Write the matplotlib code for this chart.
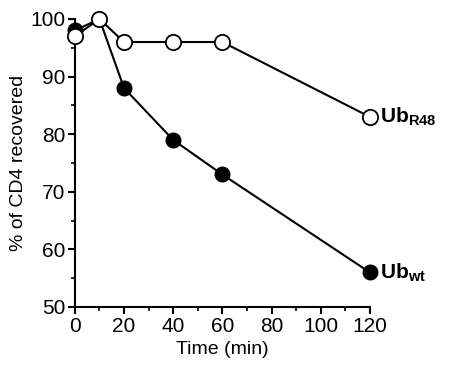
import matplotlib
matplotlib.use("Agg")
import matplotlib.pyplot as plt
from matplotlib.ticker import MultipleLocator

plt.rcParams['font.family'] = ['Liberation Sans', 'DejaVu Sans']
plt.rcParams['mathtext.fontset'] = 'custom'
plt.rcParams['mathtext.bf'] = 'Liberation Sans:bold'
plt.rcParams['mathtext.rm'] = 'Liberation Sans'

time_min = [0, 10, 20, 40, 60, 120]
ub_wt = [98, 100, 88, 79, 73, 56]
ub_r48 = [97, 100, 96, 96, 96, 83]
x_ticks = [0, 20, 40, 60, 80, 100, 120]
y_ticks = [50, 60, 70, 80, 90, 100]

fig = plt.figure(figsize=(4.51, 3.65), dpi=100)
ax = fig.add_axes([0.166, 0.159, 0.654, 0.789])

ax.plot(time_min, ub_wt, color='black', lw=1.5, marker='o', ms=10.5,
        mfc='black', mec='black', clip_on=False, zorder=3)
ax.plot(time_min, ub_r48, color='black', lw=1.5, marker='o', ms=11,
        mfc='white', mec='black', mew=1.3, clip_on=False, zorder=4)

ax.set_xlim(0, 120)
ax.set_ylim(50, 100)
ax.set_xticks(x_ticks)
ax.set_yticks(y_ticks)
ax.xaxis.set_minor_locator(MultipleLocator(10))
ax.yaxis.set_minor_locator(MultipleLocator(5))
for s in ['top', 'right']:
    ax.spines[s].set_visible(False)
for s in ['left', 'bottom']:
    ax.spines[s].set_linewidth(1.5)
ax.tick_params(axis='both', which='major', length=5, width=1.5, labelsize=15, pad=2)
ax.tick_params(axis='both', which='minor', length=3, width=1.2)

ax.set_xlabel('Time (min)', fontsize=14, labelpad=4)
ax.set_ylabel('% of CD4 recovered', fontsize=14, labelpad=2)

ax.text(124, ub_r48[-1], r'$\mathbf{Ub_{R48}}$', fontsize=15, va='center', ha='left', clip_on=False)
ax.text(124, ub_wt[-1], r'$\mathbf{Ub_{wt}}$', fontsize=15, va='center', ha='left', clip_on=False)

fig.savefig('out.png', dpi=100)
